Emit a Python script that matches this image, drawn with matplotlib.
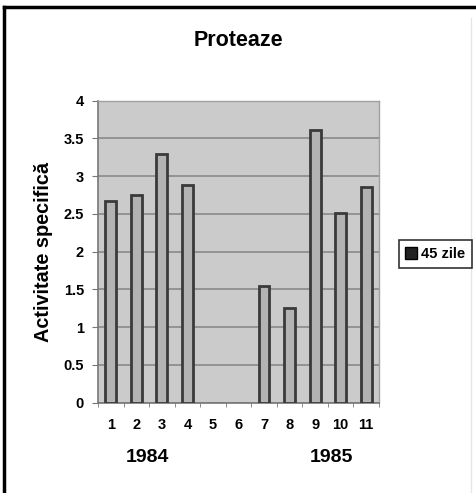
import numpy as np
import matplotlib
matplotlib.use("Agg")
import matplotlib.pyplot as plt
from matplotlib.patches import Rectangle
from matplotlib.lines import Line2D

plt.rcParams['font.family'] = ['Liberation Sans', 'DejaVu Sans']

categories = ["1", "2", "3", "4", "5", "6", "7", "8", "9", "10", "11"]
values = [2.67, 2.75, 3.29, 2.88, np.nan, np.nan, 1.55, 1.25, 3.61, 2.51, 2.86]
series_name = "45 zile"
year_labels = ["1984", "1985"]
yticks = [0, 0.5, 1, 1.5, 2, 2.5, 3, 3.5, 4]
ytick_labels = ["0", "0.5", "1", "1.5", "2", "2.5", "3", "3.5", "4"]

W, H = 476, 493
fig = plt.figure(figsize=(W / 100, H / 100), dpi=100)
fig.patch.set_facecolor("white")

ax = fig.add_axes([98 / W, 1 - 402.7 / H, 281 / W, 302 / H])
ax.set_facecolor("#cbcbcb")
x = np.arange(len(categories))
ax.bar(x, values, width=0.42, color="#b3b3b3", edgecolor="#3a3a3a", linewidth=2, zorder=3, label=series_name)
ax.set_xlim(-0.5, len(categories) - 0.5)
ax.set_ylim(0, 4)
ax.set_yticks(yticks)
ax.set_yticklabels(ytick_labels)
ax.yaxis.grid(True, color="#8a8a8a", linewidth=1.2, zorder=1)
ax.set_axisbelow(True)
ax.set_xticks(x)
ax.set_xticklabels(categories)
ax.set_xticks(np.arange(-0.5, len(categories), 1), minor=True)
ax.tick_params(axis="x", which="major", length=0, pad=11, labelsize=10.5)
ax.tick_params(axis="x", which="minor", length=3, color="#777777", direction="out")
ax.tick_params(axis="y", length=4, color="#777777", pad=6, labelsize=10.5)
for lab in ax.get_xticklabels() + ax.get_yticklabels():
    lab.set_fontweight("bold")
for s in ["top", "right"]:
    ax.spines[s].set_color("#a0a0a0")
    ax.spines[s].set_linewidth(1)
for s in ["left", "bottom"]:
    ax.spines[s].set_color("#777777")
    ax.spines[s].set_linewidth(1.2)

ax.set_ylabel("Activitate specifică", fontsize=14.3, fontweight="bold")
ax.yaxis.set_label_coords((53 - 98) / 281, 0.5)

fig.text(238 / W, 1 - 40 / H, "Proteaze", ha="center", va="center", fontsize=15.5, fontweight="bold")
fig.text(147 / W, 1 - 457 / H, year_labels[0], ha="center", va="center", fontsize=14, fontweight="bold")
fig.text(331 / W, 1 - 457 / H, year_labels[1], ha="center", va="center", fontsize=14, fontweight="bold")

leg = fig.legend(handles=[Rectangle((0, 0), 1, 1, facecolor="#222222", edgecolor="#000000")],
                 labels=[series_name], loc="center", bbox_to_anchor=(435.5 / W, 1 - 254 / H),
                 frameon=True, fancybox=False, handlelength=0.8, handleheight=0.8,
                 handletextpad=0.3, borderpad=0.45, prop={"weight": "bold", "size": 10.5})
leg.get_frame().set_edgecolor("black")
leg.get_frame().set_linewidth(1.2)

# outer frame lines
fig.add_artist(Line2D([4 / W, 4 / W], [0, 1 - 7 / H], color="black", linewidth=2.5))
fig.add_artist(Line2D([4 / W, 1], [1 - 7 / H, 1 - 7 / H], color="black", linewidth=2.5))
fig.add_artist(Line2D([471 / W, 471 / W], [0, 1 - 18 / H], color="#e6e6e6", linewidth=1))

fig.savefig("out.png", dpi=100)
